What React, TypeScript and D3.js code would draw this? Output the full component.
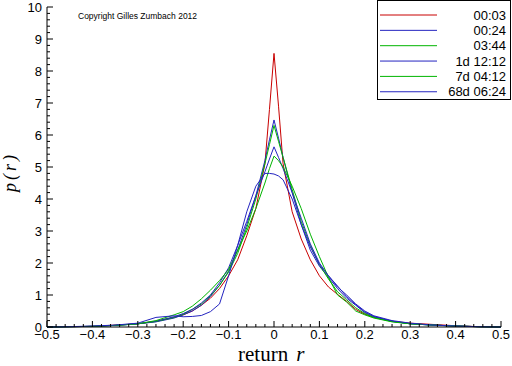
import React from "react";
import * as d3 from "d3";

const returns = [-0.5, -0.45, -0.4, -0.35, -0.3, -0.26, -0.22, -0.2, -0.18, -0.16, -0.14, -0.12, -0.1, -0.08, -0.06, -0.04, -0.02, -0.01, 0, 0.01, 0.02, 0.04, 0.06, 0.08, 0.1, 0.12, 0.14, 0.16, 0.18, 0.2, 0.22, 0.26, 0.3, 0.35, 0.4, 0.45, 0.5];

const p0003 = [0, 0.01, 0.02, 0.06, 0.1, 0.18, 0.3, 0.38, 0.5, 0.68, 0.9, 1.2, 1.6, 2.1, 2.85, 3.7, 5.1, 6.8, 8.55, 6.9, 5.1, 3.6, 2.75, 2.1, 1.6, 1.25, 1.02, 0.8, 0.55, 0.4, 0.3, 0.18, 0.12, 0.08, 0.04, 0.01, 0];
const p0024 = [0, 0.01, 0.02, 0.05, 0.1, 0.16, 0.28, 0.38, 0.5, 0.68, 0.95, 1.3, 1.75, 2.4, 3.2, 4.1, 5.2, 5.85, 6.47, 5.9, 5.3, 4.2, 3.2, 2.4, 1.9, 1.55, 1.2, 0.9, 0.68, 0.45, 0.32, 0.18, 0.1, 0.06, 0.03, 0.01, 0];
const p0344 = [0, 0.01, 0.02, 0.05, 0.1, 0.17, 0.3, 0.4, 0.55, 0.72, 0.98, 1.3, 1.72, 2.3, 3.1, 4.0, 5.1, 5.7, 6.3, 5.8, 5.3, 4.3, 3.3, 2.55, 1.95, 1.5, 1.1, 0.85, 0.6, 0.42, 0.3, 0.17, 0.1, 0.06, 0.03, 0.01, 0];
const p1d = [0, 0.01, 0.02, 0.05, 0.1, 0.18, 0.32, 0.42, 0.55, 0.75, 1.0, 1.38, 1.85, 2.55, 3.3, 4.1, 4.85, 5.25, 5.63, 5.3, 4.95, 4.2, 3.4, 2.6, 2.0, 1.6, 1.28, 0.95, 0.7, 0.47, 0.33, 0.18, 0.1, 0.06, 0.03, 0.01, 0];
const p7d = [0, 0.01, 0.02, 0.05, 0.1, 0.2, 0.38, 0.48, 0.65, 0.88, 1.15, 1.45, 1.8, 2.4, 3.0, 3.7, 4.5, 4.95, 5.34, 5.2, 5.0, 4.4, 3.7, 2.9, 2.2, 1.55, 1.0, 0.78, 0.5, 0.38, 0.28, 0.16, 0.1, 0.06, 0.03, 0.01, 0];
const p68d = [0, 0.01, 0.03, 0.06, 0.12, 0.3, 0.35, 0.32, 0.33, 0.36, 0.48, 0.72, 1.6, 2.55, 3.6, 4.4, 4.8, 4.8, 4.78, 4.72, 4.6, 4.0, 3.2, 2.5, 1.95, 1.6, 1.25, 1.0, 0.72, 0.5, 0.35, 0.2, 0.12, 0.06, 0.03, 0.01, 0];

const seriesNames = ["00:03", "00:24", "03:44", "1d 12:12", "7d 04:12", "68d 06:24"];
const seriesValues = [p0003, p0024, p0344, p1d, p7d, p68d];
const seriesColors = ["#c80000", "#2424c0", "#00b400", "#2424c0", "#00b400", "#2424c0"];

const xTicks = [-0.5, -0.4, -0.3, -0.2, -0.1, 0, 0.1, 0.2, 0.3, 0.4, 0.5];
const yTicks = [0, 1, 2, 3, 4, 5, 6, 7, 8, 9, 10];

export default function App() {
  const x = d3.scaleLinear().domain([-0.5, 0.5]).range([47, 501]);
  const y = d3.scaleLinear().domain([0, 10]).range([327, 7]);
  const line = d3
    .line<[number, number]>()
    .x((d) => x(d[0]))
    .y((d) => y(d[1]));

  const xMinor = d3.range(-0.5, 0.5001, 0.02);
  const yMinor = d3.range(0, 10.001, 0.2);
  const sans = "'Liberation Sans', Arial, sans-serif";
  const serif = "'Liberation Serif', 'Times New Roman', serif";

  return (
    <svg
      width={512}
      height={366}
      style={{ position: "absolute", left: 0, top: 0, background: "#fff" }}
    >
      {seriesValues.map((vals, i) => (
        <path
          key={seriesNames[i]}
          d={line(returns.map((r, k) => [r, vals[k]] as [number, number])) || ""}
          fill="none"
          stroke={seriesColors[i]}
          strokeWidth={1}
        />
      ))}

      <line x1={x(-0.5)} x2={x(-0.5)} y1={y(0)} y2={y(10)} stroke="#000" />
      <line x1={x(-0.5)} x2={x(0.5)} y1={y(0)} y2={y(0)} stroke="#000" />
      {yMinor.map((v, i) => (
        <line key={"ym" + i} x1={x(-0.5)} x2={x(-0.5) + (i % 5 === 0 ? 6 : 3)} y1={y(v)} y2={y(v)} stroke="#000" />
      ))}
      {xMinor.map((v, i) => (
        <line key={"xm" + i} x1={x(v)} x2={x(v)} y1={y(0)} y2={y(0) - (i % 5 === 0 ? 6 : 3)} stroke="#000" />
      ))}
      {yTicks.map((t) => (
        <text key={"yt" + t} x={42} y={y(t) + 4.5} textAnchor="end" fontFamily={sans} fontSize={13}>
          {t}
        </text>
      ))}
      {xTicks.map((t) => (
        <text key={"xt" + t} x={x(t)} y={339} textAnchor="middle" fontFamily={sans} fontSize={13}>
          {d3.format("")(+t.toFixed(1))}
        </text>
      ))}

      <text x={238} y={361} fontFamily={serif} fontSize={21}>
        return
        <tspan dx={8} fontStyle="italic">r</tspan>
      </text>
      <text
        transform={`translate(16,172) rotate(-90)`}
        textAnchor="middle"
        fontFamily={serif}
        fontStyle="italic"
        fontSize={18}
        letterSpacing={3}
      >
        p(r)
      </text>

      <text x={78} y={19} fontFamily={sans} fontSize={8.5}>
        Copyright Gilles Zumbach 2012
      </text>

      <rect x={377.5} y={0.5} width={133} height={99} fill="#fff" stroke="#000" />
      {seriesNames.map((n, i) => (
        <g key={"lg" + n}>
          <line x1={380} x2={437} y1={15 + i * 15.35} y2={15 + i * 15.35} stroke={seriesColors[i]} />
          <text x={506} y={15 + i * 15.35 + 4.5} textAnchor="end" fontFamily={sans} fontSize={13}>
            {n}
          </text>
        </g>
      ))}
    </svg>
  );
}
